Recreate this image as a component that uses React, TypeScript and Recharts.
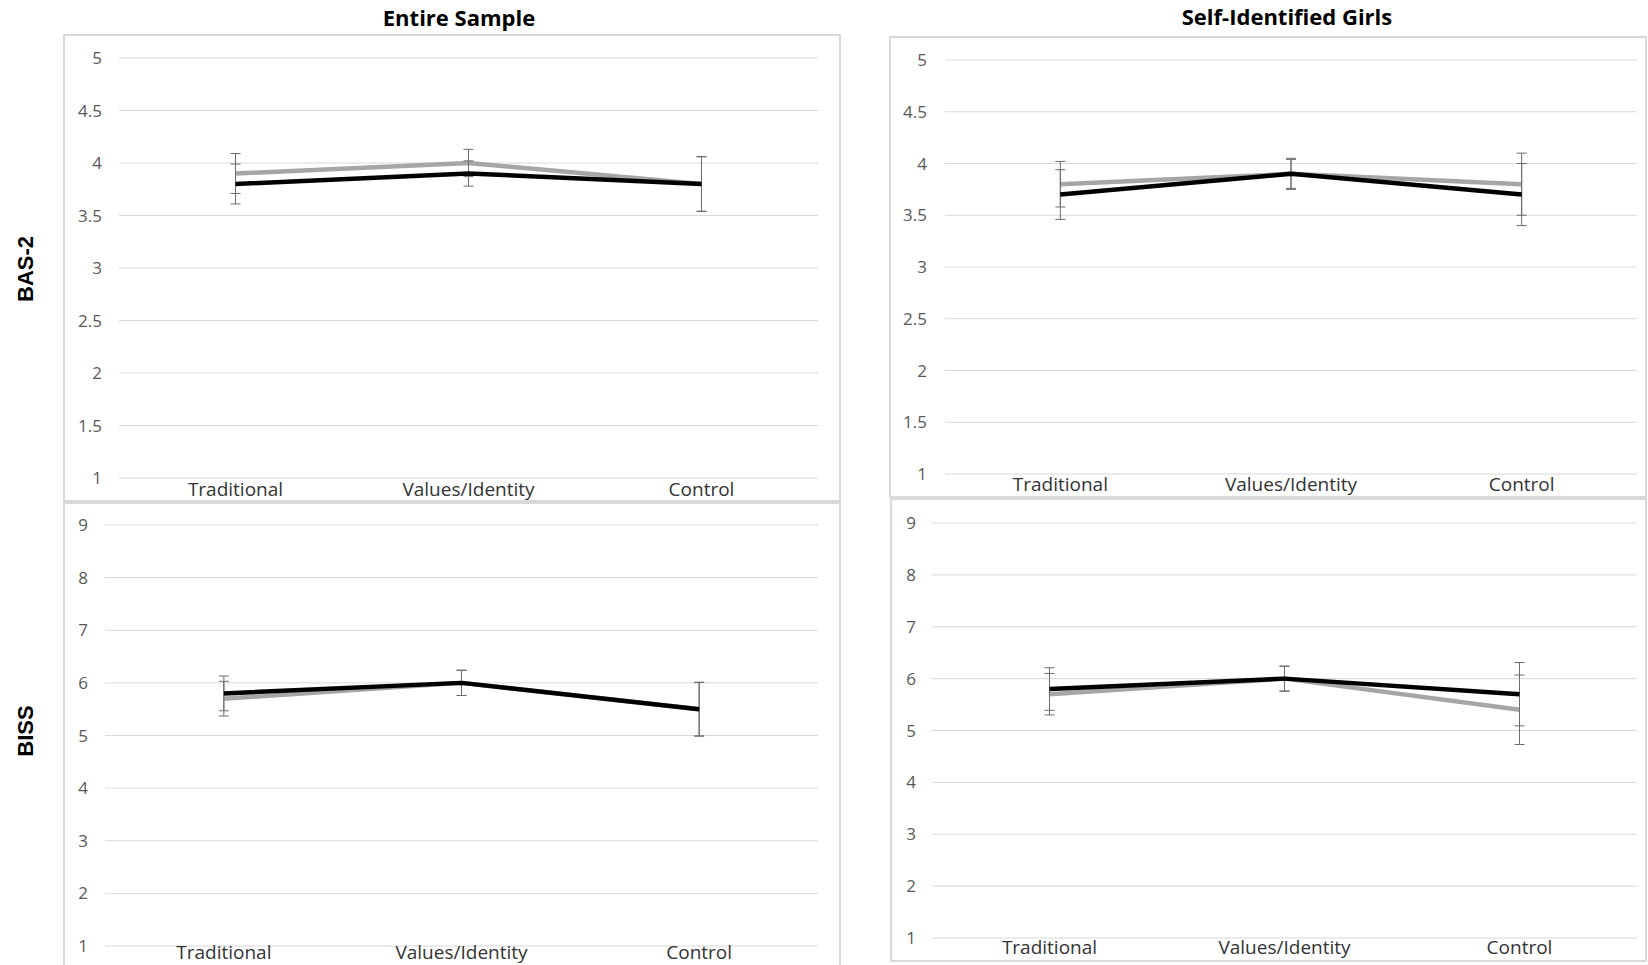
import React from "react";
import {
  LineChart,
  Line,
  XAxis,
  YAxis,
  CartesianGrid,
  ErrorBar,
} from "recharts";

const categories = ["Traditional", "Values/Identity", "Control"];

// BAS-2, entire sample
const basAllGray = [3.9, 4.0, 3.8];
const basAllGrayErr = [0.19, 0.13, 0.26];
const basAllBlack = [3.8, 3.9, 3.8];
const basAllBlackErr = [0.19, 0.12, 0.26];

// BAS-2, self-identified girls
const basGirlsGray = [3.8, 3.9, 3.8];
const basGirlsGrayErr = [0.22, 0.14, 0.3];
const basGirlsBlack = [3.7, 3.9, 3.7];
const basGirlsBlackErr = [0.24, 0.15, 0.3];

// BISS, entire sample
const bissAllGray = [5.7, 6.0, 5.5];
const bissAllGrayErr = [0.33, 0.24, 0.51];
const bissAllBlack = [5.8, 6.0, 5.5];
const bissAllBlackErr = [0.33, 0.24, 0.51];

// BISS, self-identified girls
const bissGirlsGray = [5.7, 6.0, 5.4];
const bissGirlsGrayErr = [0.4, 0.24, 0.67];
const bissGirlsBlack = [5.8, 6.0, 5.7];
const bissGirlsBlackErr = [0.41, 0.24, 0.61];

const basTicks = [1, 1.5, 2, 2.5, 3, 3.5, 4, 4.5, 5];
const bissTicks = [1, 2, 3, 4, 5, 6, 7, 8, 9];

const FONT = "'Open Sans', 'DejaVu Sans', sans-serif";
const GRAY = "#a6a6a6";
const BORDER = "#d9d9d9";

function buildRows(gray, grayErr, black, blackErr) {
  return categories.map((name, i) => ({
    name,
    gray: gray[i],
    grayErr: grayErr[i],
    black: black[i],
    blackErr: blackErr[i],
  }));
}

type PanelProps = {
  left: number;
  top: number;
  width: number;
  height: number;
  yWidth: number;
  xHeight: number;
  xGap: number;
  marginTop: number;
  marginRight: number;
  yTickGap: number;
  domain: [number, number];
  ticks: number[];
  rows: any[];
};

function Panel(p: PanelProps) {
  const plotWidth = p.width - p.yWidth - p.marginRight;
  const pad = plotWidth / 6;
  return (
    <div
      style={{
        position: "absolute",
        left: p.left,
        top: p.top,
        width: p.width,
        height: p.height,
        boxSizing: "border-box",
      }}
    >
      <LineChart
        width={p.width}
        height={p.height}
        data={p.rows}
        margin={{ top: p.marginTop, right: p.marginRight, bottom: 0, left: 0 }}
      >
        <CartesianGrid vertical={false} stroke={BORDER} strokeWidth={1} />
        <XAxis
          dataKey="name"
          height={p.xHeight}
          axisLine={false}
          tickLine={false}
          tickSize={0}
          tickMargin={p.xGap}
          padding={{ left: pad, right: pad }}
          interval={0}
          tick={{ fontSize: 19, fill: "#333", fontFamily: FONT }}
        />
        <YAxis
          width={p.yWidth}
          domain={p.domain}
          ticks={p.ticks}
          axisLine={false}
          tickLine={false}
          tickSize={0}
          tickMargin={p.yTickGap}
          interval={0}
          tick={{ fontSize: 17, fill: "#595959", fontFamily: FONT }}
        />
        <Line
          dataKey="gray"
          stroke={GRAY}
          strokeWidth={4.5}
          dot={false}
          activeDot={false}
          strokeLinejoin="round"
          isAnimationActive={false}
        >
          <ErrorBar
            dataKey="grayErr"
            direction="y"
            width={5}
            stroke="#6b6b6b"
            strokeWidth={1}
            isAnimationActive={false}
          />
        </Line>
        <Line
          dataKey="black"
          stroke="#000"
          strokeWidth={4.5}
          dot={false}
          activeDot={false}
          strokeLinejoin="round"
          isAnimationActive={false}
        >
          <ErrorBar
            dataKey="blackErr"
            direction="y"
            width={5}
            stroke="#6b6b6b"
            strokeWidth={1}
            isAnimationActive={false}
          />
        </Line>
      </LineChart>
      <div
        style={{
          position: "absolute",
          inset: 0,
          border: `2px solid ${BORDER}`,
          pointerEvents: "none",
        }}
      />
    </div>
  );
}

export default function App() {
  return (
    <div
      style={{
        position: "absolute",
        left: 0,
        top: 0,
        width: 1648,
        height: 965,
        overflow: "hidden",
        background: "#fff",
      }}
    >
      <Panel
        left={63}
        top={34}
        width={778}
        height={468}
        yWidth={56}
        xHeight={24}
        xGap={5}
        marginTop={24}
        marginRight={23}
        yTickGap={17}
        domain={[1, 5]}
        ticks={basTicks}
        rows={buildRows(basAllGray, basAllGrayErr, basAllBlack, basAllBlackErr)}
      />
      <Panel
        left={889}
        top={36}
        width={758}
        height={462}
        yWidth={56}
        xHeight={24}
        xGap={4}
        marginTop={24}
        marginRight={10}
        yTickGap={18}
        domain={[1, 5]}
        ticks={basTicks}
        rows={buildRows(basGirlsGray, basGirlsGrayErr, basGirlsBlack, basGirlsBlackErr)}
      />
      <Panel
        left={63}
        top={502}
        width={778}
        height={468}
        yWidth={42}
        xHeight={24}
        xGap={0}
        marginTop={23}
        marginRight={23}
        yTickGap={17}
        domain={[1, 9]}
        ticks={bissTicks}
        rows={buildRows(bissAllGray, bissAllGrayErr, bissAllBlack, bissAllBlackErr)}
      />
      <Panel
        left={890}
        top={498}
        width={757}
        height={464}
        yWidth={42}
        xHeight={24}
        xGap={3}
        marginTop={25}
        marginRight={10}
        yTickGap={16}
        domain={[1, 9]}
        ticks={bissTicks}
        rows={buildRows(bissGirlsGray, bissGirlsGrayErr, bissGirlsBlack, bissGirlsBlackErr)}
      />
      <svg
        width={1648}
        height={965}
        style={{ position: "absolute", left: 0, top: 0, pointerEvents: "none" }}
      >
        <text x={459} y={26} textAnchor="middle" fontFamily={FONT} fontWeight={700} fontSize={22} fill="#000">
          Entire Sample
        </text>
        <text x={1287} y={25} textAnchor="middle" fontFamily={FONT} fontWeight={700} fontSize={22} fill="#000">
          Self-Identified Girls
        </text>
        <text
          x={0}
          y={0}
          transform="translate(33 269) rotate(-90)"
          textAnchor="middle"
          fontFamily="'Liberation Sans', Arial, sans-serif"
          fontWeight={700}
          fontSize={22}
          fill="#000"
        >
          BAS-2
        </text>
        <text
          x={0}
          y={0}
          transform="translate(33 731) rotate(-90)"
          textAnchor="middle"
          fontFamily="'Liberation Sans', Arial, sans-serif"
          fontWeight={700}
          fontSize={22}
          fill="#000"
        >
          BISS
        </text>
      </svg>
    </div>
  );
}
